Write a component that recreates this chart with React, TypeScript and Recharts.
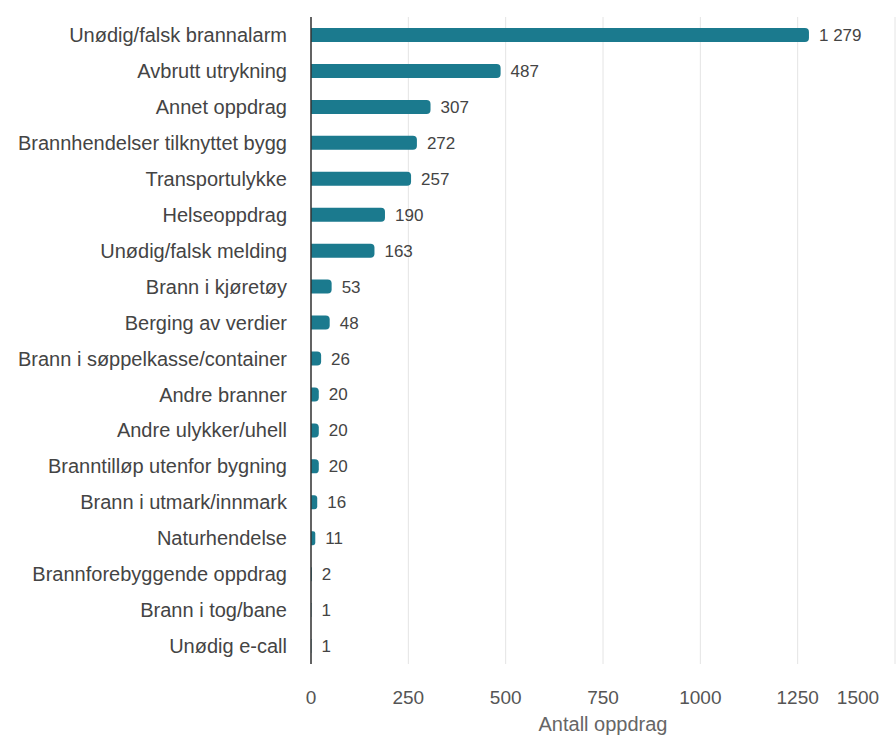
import { Bar, BarChart, CartesianGrid, LabelList, XAxis, YAxis } from "recharts";

const categories = [
  "Unødig/falsk brannalarm",
  "Avbrutt utrykning",
  "Annet oppdrag",
  "Brannhendelser tilknyttet bygg",
  "Transportulykke",
  "Helseoppdrag",
  "Unødig/falsk melding",
  "Brann i kjøretøy",
  "Berging av verdier",
  "Brann i søppelkasse/container",
  "Andre branner",
  "Andre ulykker/uhell",
  "Branntilløp utenfor bygning",
  "Brann i utmark/innmark",
  "Naturhendelse",
  "Brannforebyggende oppdrag",
  "Brann i tog/bane",
  "Unødig e-call",
];

const counts = [1279, 487, 307, 272, 257, 190, 163, 53, 48, 26, 20, 20, 20, 16, 11, 2, 1, 1];

const xTicks = [0, 250, 500, 750, 1000, 1250, 1500];

const data = categories.map((name, i) => ({ name, value: counts[i] }));

const FONT = '"Liberation Sans", Arial, sans-serif';
const BAR_COLOR = "#1b7a8e";

// tusenskille med mellomrom, som i originalen ("1 279")
const formatValue = (v: number) =>
  String(v).replace(/\B(?=(\d{3})+(?!\d))/g, " ");

// siste etikett (1500) ligger i kanten, så den flyttes litt inn
function XTick({ x, y, payload }: { x?: number; y?: number; payload?: { value: number } }) {
  const v = payload?.value ?? 0;
  const shift = v === 1500 ? -22 : 0;
  return (
    <text
      x={(x ?? 0) + shift}
      y={y}
      dy={10}
      textAnchor="middle"
      fill="#555"
      fontSize={19}
      fontFamily={FONT}
    >
      {v}
    </text>
  );
}

export default function App() {
  return (
    <div style={{ position: "fixed", top: 0, left: 0, background: "#fff" }}>
      <BarChart
        width={896}
        height={735}
        data={data}
        layout="vertical"
        margin={{ top: 17, right: 1, bottom: 0, left: 0 }}
        barCategoryGap={0}
      >
        <CartesianGrid horizontal={false} stroke="#e4e4e4" />
        <XAxis
          type="number"
          domain={[0, 1500]}
          ticks={xTicks}
          tick={<XTick />}
          tickLine={false}
          axisLine={false}
          tickMargin={24}
          height={71}
          label={{
            value: "Antall oppdrag",
            position: "insideBottom",
            offset: 0,
            dy: -4,
            fill: "#666",
            fontSize: 20,
            fontFamily: FONT,
          }}
        />
        <YAxis
          type="category"
          dataKey="name"
          width={311}
          tickLine={false}
          axisLine={{ stroke: "#333", strokeWidth: 1.5 }}
          tickMargin={18}
          interval={0}
          tick={{ fill: "#444", fontSize: 20, fontFamily: FONT }}
        />
        <Bar
          dataKey="value"
          fill={BAR_COLOR}
          barSize={14}
          radius={[0, 4, 4, 0]}
          isAnimationActive={false}
        >
          <LabelList
            dataKey="value"
            position="right"
            offset={10}
            formatter={(v: number) => formatValue(v)}
            fill="#444"
            fontSize={17}
            fontFamily={FONT}
          />
        </Bar>
      </BarChart>
    </div>
  );
}
